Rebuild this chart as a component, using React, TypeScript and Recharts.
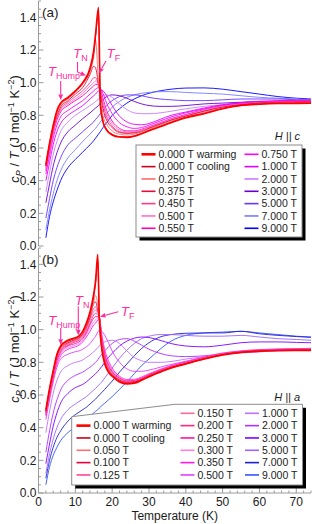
import React from 'react';
import { LineChart, Line, XAxis, YAxis, ReferenceLine, ReferenceDot, Legend } from 'recharts';

const FONT = '"Liberation Sans", Arial, Helvetica, sans-serif';
const FRAME = '#9b9b9b';
const INK = '#1c1c1c';
const PINK = '#ff2b9c';

// ---------- axis ticks ----------
const xMajor = [0, 10, 20, 30, 40, 50, 60, 70];
const xMajorLabels = ['0', '10', '20', '30', '40', '50', '60', '70'];
const xTicks = [0, 2, 4, 6, 8, 10, 12, 14, 16, 18, 20, 22, 24, 26, 28, 30, 32, 34, 36, 38, 40, 42, 44, 46, 48, 50, 52, 54, 56, 58, 60, 62, 64, 66, 68, 70, 72, 74];
const yMajor = [0, 0.2, 0.4, 0.6, 0.8, 1.0, 1.2, 1.4];
const yMajorLabels = ['0.0', '0.2', '0.4', '0.6', '0.8', '1.0', '1.2', '1.4'];
const yTicks = [0, 0.05, 0.1, 0.15, 0.2, 0.25, 0.3, 0.35, 0.4, 0.45, 0.5, 0.55, 0.6, 0.65, 0.7, 0.75, 0.8, 0.85, 0.9, 0.95, 1.0, 1.05, 1.1, 1.15, 1.2, 1.25, 1.3, 1.35, 1.4, 1.45, 1.5];

// ---------- panel (a): H || c ----------
const tempsA = [2, 3, 4, 5, 6, 8, 10, 12, 14, 15, 15.5, 16.3, 16.8, 17.5, 18.5, 20, 22, 24, 26, 28, 30, 33, 36, 40, 45, 50, 55, 60, 65, 70, 74];
const labelsA = ['0.000 T warming', '0.000 T cooling', '0.250 T', '0.375 T', '0.450 T', '0.500 T', '0.550 T', '0.750 T', '1.000 T', '2.000 T', '3.000 T', '5.000 T', '7.000 T', '9.000 T'];
const warmA = [0.50, 0.63, 0.74, 0.83, 0.875, 0.91, 0.95, 1.00, 1.09, 1.20, 1.30, 1.46, 0.86, 0.76, 0.71, 0.68, 0.667, 0.665, 0.672, 0.688, 0.705, 0.73, 0.755, 0.785, 0.81, 0.84, 0.86, 0.868, 0.872, 0.873, 0.874];
const coolA = [0.49, 0.625, 0.735, 0.825, 0.87, 0.905, 0.945, 0.995, 1.08, 1.18, 1.28, 1.42, 0.88, 0.77, 0.715, 0.685, 0.67, 0.668, 0.675, 0.69, 0.708, 0.733, 0.758, 0.787, 0.813, 0.842, 0.862, 0.87, 0.874, 0.875, 0.876];
const a0250 = [0.49, 0.62, 0.73, 0.81, 0.86, 0.90, 0.94, 0.99, 1.07, 1.16, 1.26, 1.00, 0.90, 0.80, 0.745, 0.705, 0.685, 0.68, 0.685, 0.70, 0.715, 0.74, 0.765, 0.79, 0.82, 0.845, 0.86, 0.87, 0.875, 0.878, 0.88];
const a0375 = [0.49, 0.61, 0.72, 0.80, 0.85, 0.89, 0.93, 0.97, 1.05, 1.10, 1.09, 0.99, 0.93, 0.84, 0.77, 0.725, 0.695, 0.69, 0.692, 0.70, 0.72, 0.745, 0.77, 0.795, 0.825, 0.85, 0.865, 0.875, 0.88, 0.882, 0.884];
const a0450 = [0.48, 0.60, 0.71, 0.79, 0.84, 0.88, 0.915, 0.95, 1.00, 1.03, 1.03, 0.99, 0.945, 0.865, 0.79, 0.735, 0.70, 0.692, 0.695, 0.705, 0.722, 0.748, 0.772, 0.797, 0.826, 0.851, 0.866, 0.876, 0.88, 0.883, 0.885];
const a0500 = [0.47, 0.59, 0.70, 0.78, 0.83, 0.87, 0.90, 0.935, 0.98, 1.00, 1.01, 0.99, 0.955, 0.885, 0.81, 0.75, 0.71, 0.70, 0.70, 0.71, 0.727, 0.752, 0.776, 0.80, 0.83, 0.855, 0.869, 0.878, 0.882, 0.885, 0.886];
const a0550 = [0.46, 0.58, 0.69, 0.77, 0.82, 0.86, 0.89, 0.92, 0.96, 0.98, 0.99, 0.985, 0.965, 0.905, 0.83, 0.765, 0.72, 0.705, 0.705, 0.715, 0.73, 0.755, 0.78, 0.805, 0.835, 0.858, 0.872, 0.88, 0.885, 0.887, 0.888];
const a0750 = [0.44, 0.55, 0.66, 0.74, 0.79, 0.83, 0.86, 0.89, 0.93, 0.95, 0.96, 0.97, 0.965, 0.935, 0.875, 0.81, 0.755, 0.73, 0.72, 0.725, 0.74, 0.765, 0.79, 0.815, 0.84, 0.862, 0.875, 0.883, 0.888, 0.89, 0.891];
const a1000 = [0.40, 0.51, 0.62, 0.70, 0.75, 0.80, 0.83, 0.86, 0.90, 0.92, 0.93, 0.95, 0.955, 0.95, 0.92, 0.86, 0.795, 0.76, 0.745, 0.742, 0.75, 0.775, 0.80, 0.82, 0.845, 0.865, 0.878, 0.886, 0.89, 0.892, 0.893];
const a2000 = [0.33, 0.45, 0.56, 0.64, 0.70, 0.76, 0.80, 0.83, 0.86, 0.875, 0.885, 0.90, 0.91, 0.92, 0.925, 0.91, 0.87, 0.835, 0.815, 0.81, 0.81, 0.815, 0.825, 0.84, 0.855, 0.865, 0.875, 0.88, 0.882, 0.884, 0.885];
const a3000 = [0.265, 0.38, 0.49, 0.57, 0.63, 0.70, 0.74, 0.78, 0.815, 0.835, 0.845, 0.86, 0.875, 0.895, 0.915, 0.925, 0.92, 0.905, 0.885, 0.87, 0.86, 0.855, 0.855, 0.86, 0.87, 0.875, 0.88, 0.885, 0.885, 0.885, 0.885];
const a5000 = [0.17, 0.29, 0.40, 0.48, 0.54, 0.62, 0.66, 0.70, 0.74, 0.76, 0.775, 0.795, 0.81, 0.83, 0.86, 0.89, 0.915, 0.925, 0.925, 0.92, 0.91, 0.90, 0.895, 0.89, 0.89, 0.895, 0.90, 0.90, 0.90, 0.895, 0.893];
const a7000 = [0.10, 0.22, 0.32, 0.40, 0.46, 0.54, 0.59, 0.64, 0.685, 0.71, 0.72, 0.745, 0.76, 0.78, 0.81, 0.85, 0.885, 0.91, 0.925, 0.935, 0.94, 0.945, 0.945, 0.94, 0.935, 0.93, 0.92, 0.91, 0.905, 0.90, 0.895];
const a9000 = [0.05, 0.18, 0.27, 0.34, 0.40, 0.48, 0.53, 0.575, 0.62, 0.645, 0.66, 0.685, 0.70, 0.725, 0.755, 0.80, 0.84, 0.875, 0.90, 0.92, 0.935, 0.95, 0.96, 0.967, 0.968, 0.96, 0.945, 0.93, 0.915, 0.905, 0.90];
const valuesA = [warmA, coolA, a0250, a0375, a0450, a0500, a0550, a0750, a1000, a2000, a3000, a5000, a7000, a9000];

// ---------- panel (b): H || a ----------
const tempsB = [2, 3, 4, 5, 6, 8, 10, 11, 12, 13, 14, 15, 15.5, 16.1, 16.5, 17.2, 18, 19, 20, 22, 24, 26, 28, 30, 33, 36, 40, 45, 50, 55, 60, 65, 70, 74];
const labelsB = ['0.000 T warming', '0.000 T cooling', '0.050 T', '0.100 T', '0.125 T', '0.150 T', '0.200 T', '0.250 T', '0.300 T', '0.350 T', '0.500 T', '1.000 T', '2.000 T', '3.000 T', '5.000 T', '7.000 T', '9.000 T'];
const warmB = [0.51, 0.64, 0.75, 0.85, 0.90, 0.935, 0.95, 0.962, 0.99, 1.04, 1.11, 1.22, 1.30, 1.46, 1.08, 0.88, 0.79, 0.74, 0.715, 0.68, 0.668, 0.672, 0.69, 0.712, 0.74, 0.765, 0.79, 0.82, 0.845, 0.86, 0.868, 0.872, 0.873, 0.873];
const coolB = [0.50, 0.635, 0.745, 0.845, 0.895, 0.93, 0.948, 0.96, 0.985, 1.035, 1.10, 1.20, 1.28, 1.42, 1.08, 0.885, 0.795, 0.745, 0.72, 0.685, 0.672, 0.676, 0.693, 0.715, 0.742, 0.767, 0.792, 0.822, 0.847, 0.862, 0.869, 0.873, 0.874, 0.874];
const b0050 = [0.50, 0.63, 0.74, 0.84, 0.89, 0.925, 0.945, 0.955, 0.98, 1.03, 1.09, 1.17, 1.21, 1.15, 1.08, 0.90, 0.80, 0.75, 0.72, 0.686, 0.673, 0.676, 0.692, 0.714, 0.742, 0.766, 0.79, 0.82, 0.845, 0.86, 0.868, 0.872, 0.874, 0.875];
const b0100 = [0.50, 0.63, 0.74, 0.84, 0.89, 0.92, 0.94, 0.95, 0.975, 1.02, 1.08, 1.16, 1.17, 1.12, 1.08, 0.91, 0.81, 0.755, 0.725, 0.69, 0.676, 0.68, 0.695, 0.716, 0.744, 0.768, 0.792, 0.822, 0.847, 0.862, 0.87, 0.874, 0.876, 0.877];
const b0125 = [0.49, 0.62, 0.73, 0.83, 0.88, 0.915, 0.935, 0.945, 0.97, 1.01, 1.07, 1.13, 1.14, 1.11, 1.08, 0.92, 0.82, 0.76, 0.73, 0.693, 0.678, 0.682, 0.697, 0.718, 0.746, 0.77, 0.794, 0.824, 0.848, 0.863, 0.871, 0.875, 0.877, 0.878];
const b0150 = [0.49, 0.62, 0.73, 0.83, 0.88, 0.91, 0.93, 0.94, 0.965, 1.00, 1.06, 1.11, 1.12, 1.10, 1.08, 0.93, 0.83, 0.77, 0.735, 0.697, 0.68, 0.684, 0.699, 0.72, 0.748, 0.772, 0.796, 0.826, 0.85, 0.864, 0.872, 0.876, 0.878, 0.879];
const b0200 = [0.49, 0.61, 0.72, 0.82, 0.87, 0.905, 0.925, 0.935, 0.955, 0.99, 1.04, 1.09, 1.10, 1.09, 1.08, 0.94, 0.84, 0.775, 0.74, 0.70, 0.683, 0.686, 0.70, 0.722, 0.75, 0.774, 0.798, 0.828, 0.852, 0.866, 0.874, 0.878, 0.88, 0.88];
const b0250 = [0.48, 0.60, 0.71, 0.81, 0.86, 0.90, 0.915, 0.925, 0.945, 0.98, 1.03, 1.07, 1.08, 1.08, 1.075, 0.95, 0.85, 0.785, 0.745, 0.705, 0.686, 0.689, 0.703, 0.725, 0.752, 0.776, 0.80, 0.83, 0.853, 0.867, 0.875, 0.879, 0.881, 0.882];
const b0300 = [0.48, 0.60, 0.71, 0.80, 0.85, 0.89, 0.905, 0.915, 0.935, 0.97, 1.01, 1.05, 1.06, 1.07, 1.07, 0.96, 0.86, 0.795, 0.755, 0.71, 0.69, 0.692, 0.706, 0.727, 0.754, 0.778, 0.802, 0.832, 0.855, 0.869, 0.877, 0.88, 0.882, 0.884];
const b0350 = [0.47, 0.59, 0.70, 0.79, 0.84, 0.88, 0.895, 0.905, 0.925, 0.955, 0.99, 1.03, 1.04, 1.06, 1.065, 0.97, 0.875, 0.81, 0.765, 0.715, 0.695, 0.696, 0.71, 0.73, 0.757, 0.78, 0.804, 0.834, 0.857, 0.87, 0.878, 0.882, 0.884, 0.886];
const b0500 = [0.45, 0.57, 0.68, 0.77, 0.82, 0.85, 0.865, 0.87, 0.88, 0.895, 0.915, 0.945, 0.96, 0.985, 0.995, 0.99, 0.965, 0.92, 0.87, 0.80, 0.76, 0.745, 0.745, 0.752, 0.77, 0.787, 0.807, 0.83, 0.85, 0.862, 0.87, 0.874, 0.877, 0.879];
const b1000 = [0.37, 0.50, 0.61, 0.69, 0.74, 0.78, 0.80, 0.805, 0.815, 0.83, 0.845, 0.865, 0.875, 0.89, 0.90, 0.915, 0.925, 0.933, 0.935, 0.915, 0.87, 0.83, 0.81, 0.80, 0.80, 0.805, 0.82, 0.835, 0.848, 0.858, 0.865, 0.87, 0.873, 0.875];
const b2000 = [0.25, 0.38, 0.49, 0.57, 0.63, 0.69, 0.72, 0.73, 0.74, 0.755, 0.77, 0.79, 0.80, 0.815, 0.83, 0.85, 0.87, 0.895, 0.915, 0.94, 0.945, 0.93, 0.905, 0.88, 0.855, 0.84, 0.835, 0.84, 0.85, 0.86, 0.865, 0.87, 0.873, 0.876];
const b3000 = [0.18, 0.30, 0.41, 0.49, 0.55, 0.61, 0.645, 0.655, 0.665, 0.68, 0.70, 0.72, 0.73, 0.745, 0.755, 0.775, 0.80, 0.83, 0.855, 0.90, 0.93, 0.948, 0.955, 0.952, 0.935, 0.915, 0.90, 0.895, 0.905, 0.92, 0.925, 0.925, 0.922, 0.92];
const b5000 = [0.12, 0.24, 0.33, 0.40, 0.45, 0.51, 0.545, 0.56, 0.575, 0.59, 0.61, 0.63, 0.64, 0.655, 0.665, 0.68, 0.705, 0.735, 0.765, 0.825, 0.875, 0.915, 0.945, 0.96, 0.97, 0.97, 0.965, 0.96, 0.96, 0.965, 0.955, 0.945, 0.94, 0.935];
const b7000 = [0.09, 0.20, 0.28, 0.34, 0.38, 0.44, 0.48, 0.495, 0.51, 0.525, 0.545, 0.565, 0.575, 0.59, 0.60, 0.615, 0.635, 0.66, 0.685, 0.74, 0.79, 0.84, 0.885, 0.92, 0.955, 0.97, 0.978, 0.98, 0.98, 0.99, 0.975, 0.965, 0.958, 0.953];
const b9000 = [0.05, 0.16, 0.23, 0.28, 0.32, 0.37, 0.405, 0.42, 0.435, 0.45, 0.47, 0.49, 0.50, 0.51, 0.52, 0.535, 0.55, 0.57, 0.59, 0.635, 0.68, 0.73, 0.78, 0.82, 0.88, 0.93, 0.965, 0.98, 0.985, 0.99, 0.98, 0.97, 0.96, 0.955];
const valuesB = [warmB, coolB, b0050, b0100, b0125, b0150, b0200, b0250, b0300, b0350, b0500, b1000, b2000, b3000, b5000, b7000, b9000];

// ---------- styles (kept apart from data) ----------
const colorsA = ['#ff0000', '#c8001e', '#ff6b6b', '#e0103c', '#ff3a88', '#ff6ccc', '#ff00b8', '#ff00ff', '#e000ff', '#c77dff', '#6a00cc', '#6633ff', '#7a7aff', '#0000ff'];
const colorsB = ['#ff0000', '#c8001e', '#ff7070', '#e6003c', '#ff4595', '#ff6a9a', '#ff2a80', '#ff10a8', '#ff80e6', '#ff1ae6', '#e040ff', '#c070ff', '#b030ff', '#8000ff', '#9966ff', '#2020cc', '#3355ff'];

const buildTable = (temps: number[], values: number[][]) =>
  temps.map((t, i) => {
    const row: Record<string, number> = { T: t };
    values.forEach((arr, j) => { row['s' + j] = arr[i]; });
    return row;
  });
const tableA = buildTable(tempsA, valuesA);
const tableB = buildTable(tempsB, valuesB);

// ---------- tick renderers (inward ticks, Mathematica-style frame) ----------
const bottomTick = (withLabels: boolean) => (p: any) => {
  const i = xMajor.indexOf(p.payload.value);
  const len = i >= 0 ? 5 : 2.5;
  return (
    <g>
      <line x1={p.x} x2={p.x} y1={p.y} y2={p.y - len} stroke={FRAME} strokeWidth={1} />
      {withLabels && i >= 0 ? (
        <text x={p.x} y={p.y + 4.5} dy="0.71em" textAnchor="middle" fontSize={12} fontFamily={FONT} fill={INK}>{xMajorLabels[i]}</text>
      ) : null}
    </g>
  );
};
const topTick = (p: any) => {
  const len = xMajor.indexOf(p.payload.value) >= 0 ? 5 : 2.5;
  return <line x1={p.x} x2={p.x} y1={p.y} y2={p.y + len} stroke={FRAME} strokeWidth={1} />;
};
const leftTick = (p: any) => {
  const i = yMajor.indexOf(p.payload.value);
  const len = i >= 0 ? 5 : 2.5;
  return (
    <g>
      <line x1={p.x} x2={p.x + len} y1={p.y} y2={p.y} stroke={FRAME} strokeWidth={1} />
      {i >= 0 ? (
        <text x={p.x - 2} y={p.y} dy="0.36em" textAnchor="end" fontSize={12} fontFamily={FONT} fill={INK}>{yMajorLabels[i]}</text>
      ) : null}
    </g>
  );
};
const rightTick = (p: any) => {
  const len = yMajor.indexOf(p.payload.value) >= 0 ? 5 : 2.5;
  return <line x1={p.x} x2={p.x - len} y1={p.y} y2={p.y} stroke={FRAME} strokeWidth={1} />;
};

// ---------- annotation helpers ----------
const Arrow = (p: any) => {
  const { x1, y1, x2, y2 } = p;
  const head = p.head !== false;
  const dx = x2 - x1, dy = y2 - y1;
  const L = Math.hypot(dx, dy) || 1;
  const ux = dx / L, uy = dy / L;
  const hl = 5.5, hw = 2.4;
  const bx = x2 - ux * hl, by = y2 - uy * hl;
  return (
    <g>
      <line x1={x1} y1={y1} x2={head ? bx : x2} y2={head ? by : y2} stroke={PINK} strokeWidth={1.1} />
      {head ? (
        <polygon points={`${x2},${y2} ${bx - uy * hw},${by + ux * hw} ${bx + uy * hw},${by - ux * hw}`} fill={PINK} />
      ) : null}
    </g>
  );
};
const tempLabel = (sub: string) => (p: any) => (
  <text x={p.cx} y={p.cy} fontFamily={FONT} fill={PINK}>
    <tspan fontSize={13} fontStyle="italic">T</tspan>
    <tspan fontSize={9} dy={3}>{sub}</tspan>
  </text>
);
const plainLabel = (txt: string, size: number, anchor: string, italic: boolean) => (p: any) => (
  <text x={p.cx} y={p.cy} fontFamily={FONT} fontSize={size} textAnchor={anchor} fontStyle={italic ? 'italic' : 'normal'} fill={INK}>{txt}</text>
);

const yTitle = (cy: number) => () => (
  <text transform={`translate(18.5,${cy}) rotate(-90)`} textAnchor="middle" fontSize={13} fontFamily={FONT} fill={INK}>
    <tspan fontStyle="italic">c</tspan>
    <tspan fontSize={9} fontStyle="italic" dy={3}>P</tspan>
    <tspan dy={-3}> / </tspan>
    <tspan fontStyle="italic">T</tspan>
    <tspan> (J mol</tspan>
    <tspan fontSize={9} dy={-5}>−1</tspan>
    <tspan dy={5}> K</tspan>
    <tspan fontSize={9} dy={-5}>−2</tspan>
    <tspan dy={5}>)</tspan>
  </text>
);

// ---------- legends ----------
const LegendRow = ({ x, y, color, thick, label }: any) => (
  <g>
    <line x1={x} x2={x + 14} y1={y} y2={y} stroke={color} strokeWidth={thick ? 2.6 : 1.6} />
    <text x={x + 17} y={y} dy="0.36em" fontSize={10.5} fontFamily={FONT} fill={INK}>{label}</text>
  </g>
);

const legendA = () => {
  const rows = labelsA.map((lab, i) => {
    const col = i < 7 ? 0 : 1;
    const row = i < 7 ? i : i - 7;
    return <LegendRow key={i} x={col === 0 ? 141.5 : 244.5} y={154.3 + row * 12.33} color={colorsA[i]} thick={i === 0} label={lab} />;
  });
  return (
    <svg width={312} height={252} style={{ position: 'absolute', left: 0, top: 0 }}>
      <rect x={139.5} y={148.5} width={166} height={92} fill="#000" />
      <rect x={136} y={145} width={166} height={92} fill="#fff" stroke="#8c8c8c" strokeWidth={1} />
      {rows}
    </svg>
  );
};

const legendB = () => {
  const rows = labelsB.map((lab, i) => {
    let col = 0, row = 0;
    if (i < 5) { col = 0; row = i + 1; } else if (i < 11) { col = 1; row = i - 5; } else { col = 2; row = i - 11; }
    const x = col === 0 ? 76.5 : col === 1 ? 180.5 : 245;
    return <LegendRow key={i} x={x} y={166.3 + row * 12.33} color={colorsB[i]} thick={i === 0} label={lab} />;
  });
  const poly = (dx: number, dy: number) =>
    `${71.7 + dx},${169.7 + dy} ${175 + dx},${157.3 + dy} ${302.5 + dx},${157.3 + dy} ${302.5 + dx},${238 + dy} ${71.7 + dx},${238 + dy}`;
  return (
    <svg width={312} height={277} style={{ position: 'absolute', left: 0, top: 0 }}>
      <polygon points={poly(3.5, 3.5)} fill="#000" />
      <polygon points={poly(0, 0)} fill="#fff" stroke="#8c8c8c" strokeWidth={1} />
      {rows}
    </svg>
  );
};

// ---------- shared axis set ----------
const axes = (bottomHeight: number, bottomLabels: boolean, titleCy: number, xTitle: boolean) => [
  <XAxis key="xb" xAxisId="b" dataKey="T" type="number" domain={[0, 74]} allowDataOverflow ticks={xTicks} interval={0}
    height={bottomHeight} tickSize={0} tickMargin={0} tickLine={false} axisLine={{ stroke: FRAME }} tick={bottomTick(bottomLabels)}
    label={xTitle ? () => (<text x={174.75} y={273} textAnchor="middle" fontSize={12} fontFamily={FONT} fill={INK}>Temperature (K)</text>) : undefined} />,
  <XAxis key="xt" xAxisId="t" orientation="top" dataKey="T" type="number" domain={[0, 74]} allowDataOverflow ticks={xTicks} interval={0}
    height={0} tickSize={0} tickMargin={0} tickLine={false} axisLine={{ stroke: FRAME }} tick={topTick} />,
  <YAxis key="yl" yAxisId="l" type="number" domain={[0, 1.5]} allowDataOverflow ticks={yTicks} interval={0}
    width={38.5} tickSize={0} tickMargin={0} tickLine={false} axisLine={{ stroke: FRAME }} tick={leftTick} label={yTitle(titleCy)} />,
  <YAxis key="yr" yAxisId="r" orientation="right" type="number" domain={[0, 1.5]} allowDataOverflow ticks={yTicks} interval={0}
    width={0} tickSize={0} tickMargin={0} tickLine={false} axisLine={{ stroke: FRAME }} tick={rightTick} />,
];

const lines = (labels: string[], colors: string[]) =>
  labels.map((lab, j) => j).reverse().map((j) => (
    <Line key={'s' + j} xAxisId="b" yAxisId="l" dataKey={'s' + j} name={labels[j]} type="monotone" stroke={colors[j]}
      strokeWidth={j === 0 ? 1.6 : 0.9} dot={false} activeDot={false} isAnimationActive={false} />
  ));

export default function App() {
  return (
    <div style={{ position: 'absolute', left: 0, top: 0, width: 312, height: 524, background: '#fff', fontFamily: FONT }}>
      <div style={{ position: 'absolute', left: 0, top: 0 }}>
        <LineChart width={312} height={252} data={tableA} margin={{ top: 1, right: 1, bottom: 6, left: 0 }}>
          {axes(0, false, 129, false)}
          {lines(labelsA, colorsA)}
          <ReferenceLine xAxisId="b" yAxisId="l" segment={[{ x: 6.03, y: 1.01 }, { x: 6.03, y: 0.894 }]} shape={(p: any) => <Arrow {...p} />} />
          <ReferenceLine xAxisId="b" yAxisId="l" segment={[{ x: 10.6, y: 1.127 }, { x: 10.6, y: 1.065 }]} shape={(p: any) => <Arrow {...p} head={false} />} />
          <ReferenceLine xAxisId="b" yAxisId="l" segment={[{ x: 10.6, y: 1.065 }, { x: 12.9, y: 1.044 }]} shape={(p: any) => <Arrow {...p} />} />
          <ReferenceLine xAxisId="b" yAxisId="l" segment={[{ x: 18.33, y: 1.133 }, { x: 16.43, y: 1.057 }]} shape={(p: any) => <Arrow {...p} />} />
          <ReferenceDot xAxisId="b" yAxisId="l" x={2.58} y={1.041} r={0} shape={tempLabel('Hump')} />
          <ReferenceDot xAxisId="b" yAxisId="l" x={9.45} y={1.149} r={0} shape={tempLabel('N')} />
          <ReferenceDot xAxisId="b" yAxisId="l" x={18.52} y={1.149} r={0} shape={tempLabel('F')} />
          <ReferenceDot xAxisId="b" yAxisId="l" x={0.95} y={1.399} r={0} shape={plainLabel('(a)', 13.5, 'start', false)} />
          <ReferenceDot xAxisId="b" yAxisId="l" x={71.03} y={0.646} r={0} shape={plainLabel('H || c', 11, 'end', true)} />
          <Legend layout="vertical" align="center" verticalAlign="middle" content={legendA}
            wrapperStyle={{ left: 0, top: 0, width: 312, height: 252 }} />
        </LineChart>
      </div>
      <div style={{ position: 'absolute', left: 0, top: 247 }}>
        <LineChart width={312} height={277} data={tableB} margin={{ top: 1, right: 1, bottom: 0, left: 0 }}>
          {axes(31, true, 102, true)}
          {lines(labelsB, colorsB)}
          <ReferenceLine xAxisId="b" yAxisId="l" segment={[{ x: 6.03, y: 1.01 }, { x: 6.03, y: 0.908 }]} shape={(p: any) => <Arrow {...p} />} />
          <ReferenceLine xAxisId="b" yAxisId="l" segment={[{ x: 10.8, y: 1.143 }, { x: 10.8, y: 0.966 }]} shape={(p: any) => <Arrow {...p} />} />
          <ReferenceLine xAxisId="b" yAxisId="l" segment={[{ x: 21.67, y: 1.11 }, { x: 16.7, y: 1.079 }]} shape={(p: any) => <Arrow {...p} />} />
          <ReferenceDot xAxisId="b" yAxisId="l" x={2.66} y={1.03} r={0} shape={tempLabel('Hump')} />
          <ReferenceDot xAxisId="b" yAxisId="l" x={9.9} y={1.153} r={0} shape={tempLabel('N')} />
          <ReferenceDot xAxisId="b" yAxisId="l" x={22.4} y={1.082} r={0} shape={tempLabel('F')} />
          <ReferenceDot xAxisId="b" yAxisId="l" x={0.95} y={1.402} r={0} shape={plainLabel('(b)', 13.5, 'start', false)} />
          <ReferenceDot xAxisId="b" yAxisId="l" x={71.03} y={0.565} r={0} shape={plainLabel('H || a', 11, 'end', true)} />
          <Legend layout="vertical" align="center" verticalAlign="middle" content={legendB}
            wrapperStyle={{ left: 0, top: 0, width: 312, height: 277 }} />
        </LineChart>
      </div>
    </div>
  );
}
